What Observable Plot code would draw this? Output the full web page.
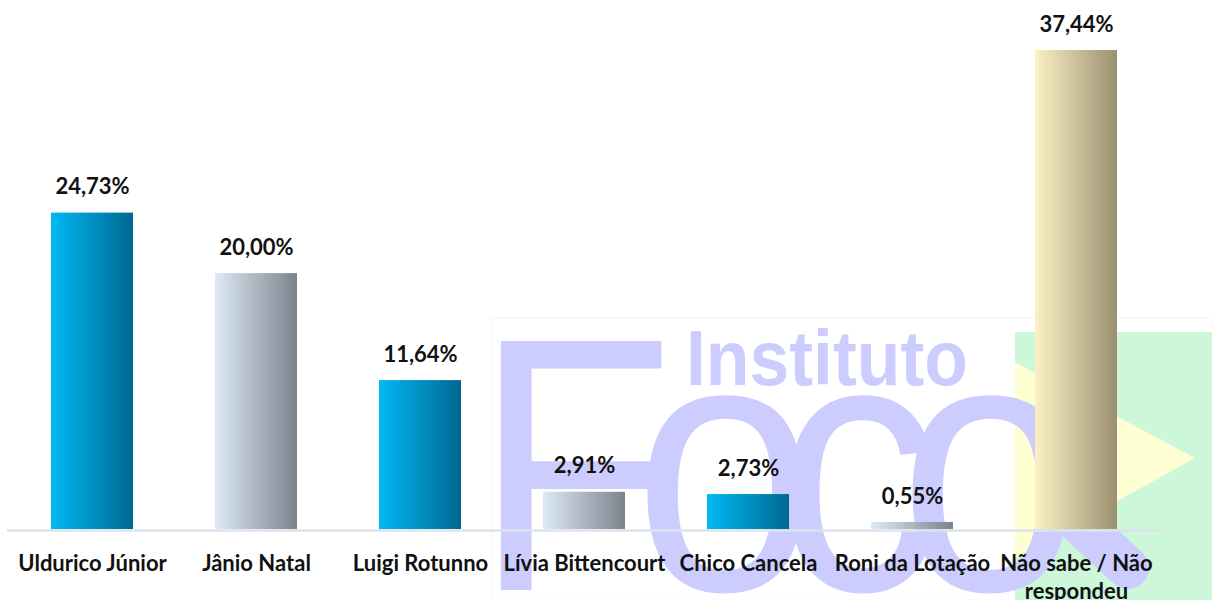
<!DOCTYPE html>
<html>
<head>
<meta charset="utf-8">
<script src="https://cdn.jsdelivr.net/npm/d3@7"></script>
<script src="https://cdn.jsdelivr.net/npm/@observablehq/plot@0.6"></script>
<style>
  html, body { margin: 0; padding: 0; background: #ffffff; }
  #chart { width: 1212px; height: 600px; }
</style>
</head>
<body>
<div id="chart"></div>
<script>
const categories = ["Uldurico Júnior", "Jânio Natal", "Luigi Rotunno", "Lívia Bittencourt", "Chico Cancela", "Roni da Lotação", "Não sabe / Não respondeu"];
const tickLabels = ["Uldurico Júnior", "Jânio Natal", "Luigi Rotunno", "Lívia Bittencourt", "Chico Cancela", "Roni da Lotação", "Não sabe / Não\nrespondeu"];
const values = [24.73, 20.00, 11.64, 2.91, 2.73, 0.55, 37.44];
const barStyles = ["blue", "gray", "blue", "gray", "blue", "gray", "beige"];

const gradients = {
  blue: ["#00b9f4", "#006891"],
  gray: ["#dde9f5", "#7a848d"],
  beige: ["#fcf1c4", "#9a9070"]
};

const data = categories.map((c, i) => ({
  category: c,
  tick: tickLabels[i],
  value: values[i],
  label: values[i].toFixed(2).replace(".", ",") + "%",
  fill: `url(#grad-${barStyles[i]})`
}));

function defsMark() {
  const defs = d3.create("svg:defs");
  for (const [k, [c0, c1]] of Object.entries(gradients)) {
    const g = defs.append("linearGradient").attr("id", "grad-" + k)
      .attr("x1", "0").attr("y1", "0").attr("x2", "1").attr("y2", "0");
    g.append("stop").attr("offset", "0").attr("stop-color", c0);
    g.append("stop").attr("offset", "1").attr("stop-color", c1);
  }
  return defs.node();
}

const lav = "#ccccff";
function watermark() {
  const g = d3.create("svg:g").attr("class", "watermark").attr("text-anchor", "start");
  g.append("rect").attr("x", 492).attr("y", 318).attr("width", 720).attr("height", 282)
    .attr("fill", "none").attr("stroke", "#f4f4f6").attr("stroke-width", 1);
  g.append("rect").attr("x", 1015).attr("y", 332).attr("width", 197).attr("height", 268).attr("fill", "#ccf7d8");
  g.append("polygon").attr("points", "1015,362 1195,458 1015,558").attr("fill", "#feffd2");
  g.append("text").attr("class", "wm-foco").text("Foco")
    .attr("x", 0).attr("y", 0)
    .attr("data-left", 474).attr("data-right", 1068).attr("data-base", 590)
    .attr("text-anchor", "start")
    .attr("letter-spacing", -45)
    .attr("font-family", "Liberation Sans, Arial, sans-serif")
    .attr("font-weight", "normal").attr("font-size", 362)
    .attr("fill", lav);
  g.append("text").attr("class", "wm-inst").text("Instituto")
    .attr("x", 0).attr("y", 0)
    .attr("data-left", 686).attr("data-right", 968).attr("data-base", 385)
    .attr("text-anchor", "start")
    .attr("font-family", "Liberation Sans, Arial, sans-serif")
    .attr("font-weight", "bold").attr("font-size", 77)
    .attr("fill", lav);
  g.append("line").attr("x1", 1060).attr("y1", 505).attr("x2", 1128).attr("y2", 568)
    .attr("stroke", lav).attr("stroke-width", 42).attr("stroke-linecap", "round");
  return g.node();
}

const chart = Plot.plot({
  width: 1212,
  height: 600,
  marginLeft: 7,
  marginRight: 52,
  marginTop: 50,
  marginBottom: 71,
  style: { background: "transparent", fontFamily: "Lato, 'Open Sans', sans-serif" },
  x: { domain: categories, paddingInner: 0.5, paddingOuter: 0.25, axis: null },
  y: { domain: [0, d3.max(values)], axis: null },
  marks: [
    defsMark,
    watermark,
    Plot.ruleY([0], { stroke: "#dde3ec", strokeWidth: 2.5, dy: 1 }),
    Plot.barY(data, { x: "category", y: "value", fill: "fill" }),
    Plot.text(data, {
      x: "category", y: "value", text: "label", dy: -26,
      fontSize: 22, fontWeight: "bold", fill: "#111111", lineAnchor: "middle"
    }),
    Plot.text(data, {
      x: "category", y: 0, text: "tick", dy: 22,
      fontSize: 22, fontWeight: "bold", fill: "#111111", lineAnchor: "top", lineHeight: 1.27
    })
  ]
});

document.getElementById("chart").appendChild(chart);

// fit watermark words into their boxes
d3.select(chart).selectAll(".wm-foco, .wm-inst").each(function() {
  const el = d3.select(this);
  const bb = this.getBBox();
  const left = +el.attr("data-left"), right = +el.attr("data-right"), base = +el.attr("data-base");
  const sx = bb.width > 0 ? (right - left) / bb.width : 1;
  el.attr("transform", `translate(${left - bb.x * sx},${base}) scale(${sx},1)`);
});
</script>
</body>
</html>
